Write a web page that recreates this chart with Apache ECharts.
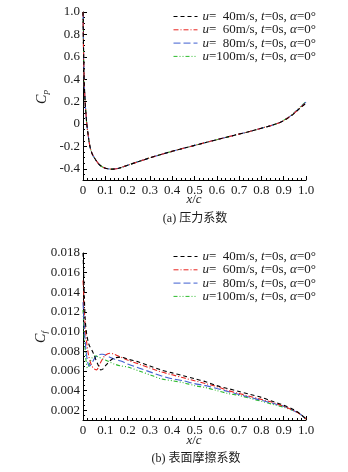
<!DOCTYPE html>
<html>
<head>
<meta charset="utf-8">
<script src="https://cdn.jsdelivr.net/npm/echarts@6/dist/echarts.min.js"></script>
<style>
  html, body { margin: 0; padding: 0; background: #fff; }
  #chart { width: 348px; height: 472px; }
</style>
</head>
<body>
<div id="chart"></div>
<script>
// Chordwise positions x/c
const xCp = [0, 0.001, 0.003, 0.006, 0.01, 0.013, 0.017, 0.022, 0.031, 0.042, 0.057, 0.07, 0.084, 0.1, 0.13, 0.16, 0.2, 0.25, 0.3, 0.35, 0.4, 0.45, 0.5, 0.55, 0.6, 0.65, 0.7, 0.75, 0.8, 0.85, 0.88, 0.9, 0.92, 0.94, 0.96, 0.98, 1.0];
// Pressure coefficient for each inflow speed
const cp40  = [1.0, 0.85, 0.6, 0.35, 0.18, 0.1, 0.0, -0.08, -0.2, -0.27, -0.32, -0.355, -0.38, -0.395, -0.403, -0.395, -0.368, -0.335, -0.302, -0.272, -0.244, -0.217, -0.191, -0.165, -0.14, -0.115, -0.09, -0.065, -0.038, -0.01, 0.01, 0.03, 0.055, 0.083, 0.118, 0.153, 0.185];
const cp60  = [1.0, 0.85, 0.6, 0.35, 0.18, 0.1, 0.0, -0.08, -0.2, -0.27, -0.32, -0.355, -0.38, -0.395, -0.403, -0.395, -0.368, -0.335, -0.302, -0.272, -0.244, -0.217, -0.191, -0.165, -0.14, -0.115, -0.09, -0.065, -0.038, -0.01, 0.011, 0.031, 0.056, 0.085, 0.12, 0.157, 0.19];
const cp80  = [1.0, 0.85, 0.6, 0.35, 0.18, 0.1, 0.0, -0.08, -0.2, -0.27, -0.32, -0.355, -0.38, -0.395, -0.403, -0.395, -0.368, -0.335, -0.302, -0.272, -0.244, -0.217, -0.191, -0.165, -0.14, -0.115, -0.09, -0.065, -0.038, -0.01, 0.011, 0.032, 0.057, 0.086, 0.122, 0.16, 0.195];
const cp100 = [1.0, 0.85, 0.6, 0.35, 0.18, 0.1, 0.0, -0.08, -0.2, -0.27, -0.32, -0.355, -0.38, -0.395, -0.403, -0.395, -0.368, -0.335, -0.302, -0.272, -0.244, -0.217, -0.191, -0.165, -0.14, -0.115, -0.09, -0.065, -0.038, -0.01, 0.012, 0.033, 0.058, 0.088, 0.124, 0.163, 0.2];

const xCf = [0, 0.003, 0.006, 0.01, 0.015, 0.02, 0.025, 0.03, 0.04, 0.05, 0.06, 0.07, 0.08, 0.09, 0.1, 0.12, 0.14, 0.17, 0.2, 0.25, 0.3, 0.35, 0.4, 0.45, 0.5, 0.55, 0.6, 0.65, 0.7, 0.75, 0.8, 0.85, 0.9, 0.95, 0.98, 1.0];
// Skin friction coefficient for each inflow speed
const cf40  = [0.0180, 0.0160, 0.0135, 0.0112, 0.0100, 0.0093, 0.0088, 0.0085, 0.0081, 0.0076, 0.0070, 0.0065, 0.0061, 0.0062, 0.0065, 0.0070, 0.0073, 0.0074, 0.0072, 0.0069, 0.0065, 0.0061, 0.0058, 0.0055, 0.0052, 0.0049, 0.0045, 0.0042, 0.0039, 0.0036, 0.0033, 0.0029, 0.0025, 0.0020, 0.0015, 0.0011];
const cf60  = [0.0152, 0.0140, 0.0122, 0.0105, 0.0092, 0.0083, 0.0076, 0.0071, 0.0065, 0.0062, 0.0061, 0.0064, 0.0069, 0.0073, 0.0076, 0.0078, 0.0077, 0.0074, 0.0071, 0.0067, 0.0063, 0.0059, 0.0056, 0.0053, 0.0050, 0.0047, 0.0044, 0.0040, 0.0037, 0.0034, 0.0031, 0.0028, 0.0024, 0.0019, 0.0015, 0.0011];
const cf80  = [0.0130, 0.0118, 0.0104, 0.0090, 0.0078, 0.0070, 0.0066, 0.0065, 0.0068, 0.0072, 0.0075, 0.0076, 0.0077, 0.0077, 0.0076, 0.0074, 0.0072, 0.0070, 0.0067, 0.0063, 0.0059, 0.0055, 0.0052, 0.0050, 0.0047, 0.0045, 0.0042, 0.0039, 0.0036, 0.0033, 0.0030, 0.0027, 0.0024, 0.0019, 0.0015, 0.0011];
const cf100 = [0.0122, 0.0108, 0.0094, 0.0080, 0.0068, 0.0063, 0.0064, 0.0068, 0.0073, 0.0075, 0.0075, 0.0074, 0.0073, 0.0072, 0.0071, 0.0069, 0.0067, 0.0065, 0.0064, 0.0060, 0.0056, 0.0052, 0.0050, 0.0048, 0.0045, 0.0043, 0.0040, 0.0037, 0.0035, 0.0032, 0.0029, 0.0026, 0.0023, 0.0019, 0.0015, 0.0011];

// Tick labels
const xTicks  = [0, 0.1, 0.2, 0.3, 0.4, 0.5, 0.6, 0.7, 0.8, 0.9, 1.0];
const cpTicks = [-0.4, -0.2, 0, 0.2, 0.4, 0.6, 0.8, 1.0];
const cfTicks = [0.002, 0.004, 0.006, 0.008, 0.010, 0.012, 0.014, 0.016, 0.018];

const speeds = ['40', '60', '80', '100'];
const colors = ['#000000', '#e8231f', '#3f5fd0', '#2dbb2d'];
const dashes = [[4, 3], [5, 2, 1, 2], [7, 3], [4, 2, 1, 2, 1, 2]];

const serif = 'Liberation Serif';
const ink = '#1a1a1a';

function zip(xs, ys) { return xs.map((x, i) => [x, ys[i]]); }

function legendLabel(name) {
  const s = name.split('_')[1];
  const pad = s.length < 3 ? '  ' : '';
  return '{i|u}{n|=' + pad + s + 'm/s, }{i|t}{n|=0s, }{i|α}{n|=0°}';
}

const textRich = {
  i: { fontFamily: serif, fontStyle: 'italic', fontSize: 13, fill: ink, color: ink },
  n: { fontFamily: serif, fontSize: 13, fill: ink, color: ink },
  c: { fontFamily: serif, fontStyle: 'italic', fontSize: 14, fill: ink, color: ink, lineHeight: 16 },
  s: { fontFamily: serif, fontStyle: 'italic', fontSize: 9, fill: ink, color: ink, verticalAlign: 'bottom', lineHeight: 16, padding: [7, 0, 0, 0] }
};

function makeSeries(prefix, xs, ysList, gi) {
  return ysList.map((ys, k) => ({
    name: prefix + '_' + speeds[k],
    type: 'line',
    xAxisIndex: gi,
    yAxisIndex: gi * 2,
    data: zip(xs, ys),
    symbol: 'none',
    smooth: 0.3,
    lineStyle: { color: colors[k], width: 1.1, type: dashes[k] },
    itemStyle: { color: colors[k] },
    z: 5 - k
  }));
}

function xAxisFor(gi) {
  return {
    type: 'value', gridIndex: gi, min: 0, max: 1, interval: 0.1,
    axisLine: { onZero: false, lineStyle: { color: '#000', width: 1 } },
    axisTick: { inside: true, length: 4, lineStyle: { color: '#000' } },
    minorTick: { show: true, splitNumber: 5, length: 2, lineStyle: { color: '#000' } },
    splitLine: { show: false },
    axisLabel: {
      color: ink, fontFamily: serif, fontSize: 13, margin: 4,
      formatter: v => (Math.abs(v) < 1e-9 ? '0' : v.toFixed(1)),
      customValues: xTicks
    }
  };
}

function yMainAxis(gi, min, max, ticks, fmt) {
  return {
    type: 'value', gridIndex: gi, min: min, max: max,
    axisLine: { show: true, onZero: false, lineStyle: { color: '#000', width: 1 } },
    axisTick: { show: true, inside: true, length: 4, customValues: ticks, lineStyle: { color: '#000' } },
    axisLabel: { color: ink, fontFamily: serif, fontSize: 13, margin: 3, customValues: ticks, formatter: fmt },
    splitLine: { show: false }
  };
}

// Fine ticks on the value axes
function yMinorAxis(gi, min, max, step) {
  return {
    type: 'value', gridIndex: gi, min: min, max: max, interval: step, position: 'left',
    axisLine: { show: false, onZero: false },
    axisTick: { show: true, inside: true, length: 2, lineStyle: { color: '#000' } },
    axisLabel: { show: false },
    splitLine: { show: false }
  };
}

const chart = echarts.init(document.getElementById('chart'), null, { renderer: 'canvas' });

const topNames = speeds.map(s => 'cp_' + s);
const botNames = speeds.map(s => 'cf_' + s);

function legendFor(top, names) {
  return {
    data: names, orient: 'vertical', left: 168, top: top,
    itemWidth: 24, itemHeight: 10, itemGap: 0.3,
    itemStyle: { color: 'rgba(0,0,0,0)', borderWidth: 0, borderColor: 'rgba(0,0,0,0)' },
    lineStyle: { width: 1 },
    formatter: legendLabel,
    textStyle: { color: ink, fontFamily: serif, fontSize: 13, lineHeight: 13, rich: textRich },
    selectedMode: false
  };
}

function label(x, y, text, rotation) {
  return {
    type: 'text', x: x, y: y, rotation: rotation || 0,
    style: { text: text, rich: textRich, fill: ink, font: '13px "Liberation Serif"', align: 'center', verticalAlign: 'middle' }
  };
}

chart.setOption({
  animation: false,
  backgroundColor: '#fff',
  textStyle: { fontFamily: serif },
  grid: [
    { left: 83, top: 12, width: 223, height: 168 },
    { left: 83, top: 253, width: 223, height: 167 }
  ],
  legend: [legendFor(5, topNames), legendFor(245, botNames)],
  xAxis: [xAxisFor(0), xAxisFor(1)],
  yAxis: [
    yMainAxis(0, -0.5, 1.0, cpTicks, v => (Math.abs(v) < 1e-9 ? '0' : v.toFixed(1))),
    yMinorAxis(0, -0.5, 1.0, 0.05),
    yMainAxis(1, 0.001, 0.018, cfTicks, v => v.toFixed(3)),
    yMinorAxis(1, 0.001, 0.018, 0.0005)
  ],
  series: [
    ...makeSeries('cp', xCp, [cp40, cp60, cp80, cp100], 0),
    ...makeSeries('cf', xCf, [cf40, cf60, cf80, cf100], 1)
  ],
  graphic: [
    label(194, 200, '{i|x}{n|/}{i|c}'),
    label(194, 441, '{i|x}{n|/}{i|c}'),
    label(42, 97, '{c|C}{s|p}', Math.PI / 2),
    label(41, 337, '{c|C}{s|f}', Math.PI / 2),
    { type: 'text', x: 195, y: 219, style: { text: '(a) 压力系数', font: '12px "Liberation Serif", "Noto Sans CJK SC"', fill: ink, align: 'center', verticalAlign: 'middle' } },
    { type: 'text', x: 196, y: 459, style: { text: '(b) 表面摩擦系数', font: '12px "Liberation Serif", "Noto Sans CJK SC"', fill: ink, align: 'center', verticalAlign: 'middle' } }
  ]
});
</script>
</body>
</html>
